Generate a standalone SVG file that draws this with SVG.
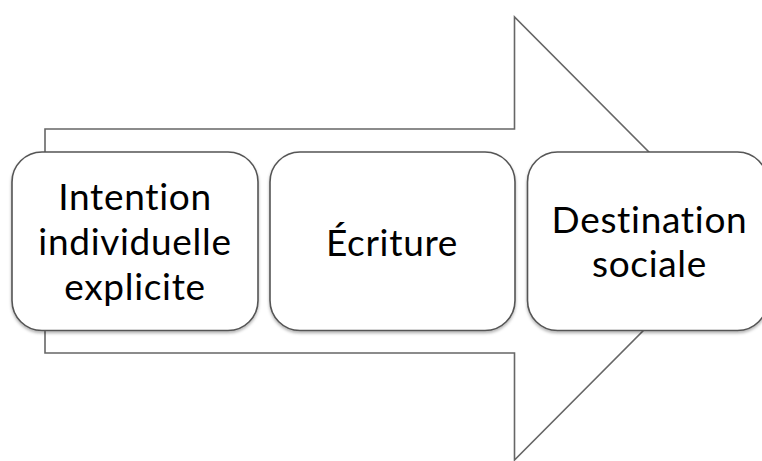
<svg xmlns="http://www.w3.org/2000/svg" width="762" height="461" viewBox="0 0 762 461">
<defs>
<style>
.arrow{fill:#fff;stroke:#666;stroke-width:1.6}
.box{fill:#fff;stroke:#555;stroke-width:1.6;filter:url(#sh)}
.t{font-family:Lato,"Open Sans","Liberation Sans",sans-serif;font-size:37px;letter-spacing:0.7px;fill:#000;text-anchor:middle}
</style>
<filter id="sh" x="-10%" y="-10%" width="120%" height="125%">
<feDropShadow dx="0" dy="2" stdDeviation="1.5" flood-color="#000" flood-opacity="0.3"/>
</filter>
</defs>
<g id="connectors">
<polygon class="arrow" points="45,129 514.5,129 514.5,17 735,238.5 514.5,460 514.5,353 45,353"/>
</g>
<g id="node1">
<rect class="box" x="12" y="152" width="246" height="178.5" rx="30" ry="30"/>
<text class="t" x="135" y="210">Intention</text>
<text class="t" x="135" y="255">individuelle</text>
<text class="t" x="135" y="300">explicite</text>
</g>
<g id="node2">
<rect class="box" x="270" y="152" width="245" height="178.5" rx="30" ry="30"/>
<text class="t" x="392" y="256">Écriture</text>
</g>
<g id="node3">
<rect class="box" x="527.5" y="152" width="240" height="178.5" rx="30" ry="30"/>
<text class="t" x="649.5" y="233">Destination</text>
<text class="t" x="649.5" y="277">sociale</text>
</g>
</svg>
